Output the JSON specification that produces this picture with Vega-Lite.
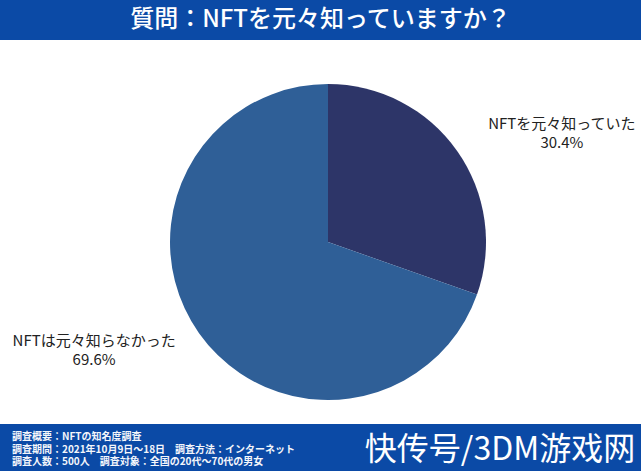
{
  "$schema": "https://vega.github.io/schema/vega-lite/v6.json",
  "padding": 0,
  "background": "#ffffff",
  "spacing": 0,
  "config": {
    "view": {"stroke": null},
    "font": "Noto Sans CJK JP",
    "text": {"font": "Noto Sans CJK JP"}
  },
  "datasets": {
    "shares": [
      {"label": "NFTを元々知っていた", "share": 0.304, "order": 1},
      {"label": "NFTは元々知らなかった", "share": 0.696, "order": 2}
    ]
  },
  "vconcat": [
    {
      "width": 641,
      "height": 40,
      "view": {"fill": "#0b4aa6", "stroke": null},
      "data": {"values": [{"title": "質問：NFTを元々知っていますか？"}]},
      "mark": {"type": "text", "color": "#ffffff", "fontSize": 24, "fontWeight": 500, "baseline": "middle", "align": "center"},
      "encoding": {"text": {"field": "title", "type": "nominal"}}
    },
    {
      "width": 641,
      "height": 20,
      "data": {"values": []},
      "mark": {"type": "text"},
      "encoding": {}
    },
    {
      "spacing": 0,
      "hconcat": [
        {
          "width": 12,
          "height": 364,
          "data": {"values": []},
          "mark": {"type": "text"},
          "encoding": {}
        },
        {
          "width": 626,
          "height": 364,
          "data": {"name": "shares"},
          "layer": [
            {
              "mark": {"type": "arc", "radius": 158, "stroke": null},
              "encoding": {
                "theta": {"field": "share", "type": "quantitative", "stack": true},
                "order": {"field": "order", "type": "quantitative"},
                "color": {
                  "field": "label",
                  "type": "nominal",
                  "scale": {"domain": ["NFTを元々知っていた", "NFTは元々知らなかった"], "range": ["#2d3568", "#2f5f97"]},
                  "legend": null
                }
              }
            },
            {
              "mark": {"type": "text", "radius": 258, "fontSize": 15, "color": "#222222", "dy": -9.5, "baseline": "middle"},
              "encoding": {
                "theta": {"field": "share", "type": "quantitative", "stack": true, "scale": {"range": [0.18, 6.4632]}},
                "order": {"field": "order", "type": "quantitative"},
                "text": {"field": "label", "type": "nominal"}
              }
            },
            {
              "mark": {"type": "text", "radius": 258, "fontSize": 15, "color": "#222222", "dy": 9.5, "baseline": "middle"},
              "encoding": {
                "theta": {"field": "share", "type": "quantitative", "stack": true, "scale": {"range": [0.18, 6.4632]}},
                "order": {"field": "order", "type": "quantitative"},
                "text": {"field": "share", "type": "quantitative", "format": ".1%"}
              }
            }
          ],
          "resolve": {"scale": {"theta": "independent"}}
        }
      ]
    },
    {
      "width": 641,
      "height": 47,
      "view": {"fill": "#0b4aa6", "stroke": null},
      "layer": [
        {
          "data": {"values": [
            {"row": 1, "line": "調査概要：NFTの知名度調査"},
            {"row": 2, "line": "調査期間：2021年10月9日～18日　調査方法：インターネット"},
            {"row": 3, "line": "調査人数：500人　調査対象：全国の20代～70代の男女"}
          ]},
          "mark": {"type": "text", "align": "left", "baseline": "middle", "color": "#f4f6fb", "fontSize": 10, "fontWeight": "bold"},
          "encoding": {
            "x": {"value": 12},
            "y": {"field": "row", "type": "ordinal", "axis": null, "scale": {"range": [13, 38], "padding": 0}},
            "text": {"field": "line", "type": "nominal"}
          }
        },
        {
          "data": {"values": [{"mark": "快传号/3DM游戏网"}]},
          "mark": {"type": "text", "align": "center", "baseline": "middle", "color": "#ffffff", "fontSize": 32},
          "encoding": {
            "x": {"value": 500},
            "y": {"value": 26},
            "text": {"field": "mark", "type": "nominal"}
          }
        }
      ]
    }
  ]
}
